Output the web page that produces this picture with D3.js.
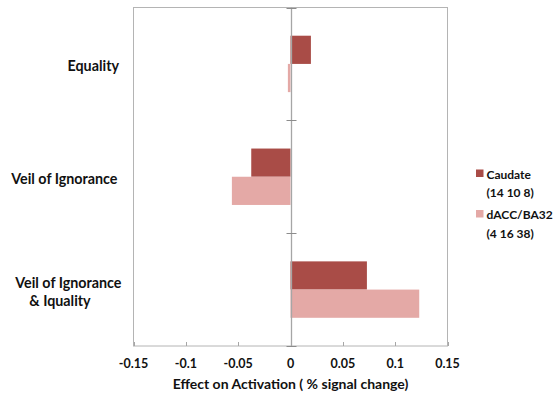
<!DOCTYPE html>
<html>
<head>
<meta charset="utf-8">
<script src="https://cdn.jsdelivr.net/npm/d3@7"></script>
<style>
  body { margin: 0; background: #fff; }
  text { font-family: Lato, "Open Sans", sans-serif; font-weight: bold; fill: #111; }
</style>
</head>
<body>
<div id="chart"></div>
<script>
const categories = ["Equality", "Veil of Ignorance", "Veil of Ignorance & Iquality"];
const caudateValues = [0.0195, -0.0375, 0.073];
const daccValues = [-0.0025, -0.056, 0.123];
const seriesLabels = [["Caudate", "(14 10 8)"], ["dACC/BA32", "(4 16 38)"]];
const seriesColors = ["#a94c47", "#e4a9a6"];
const xTicks = [-0.15, -0.1, -0.05, 0, 0.05, 0.1, 0.15];
const xTitle = "Effect on Activation ( % signal change)";

const width = 554, height = 393;
const plot = {left: 133.5, right: 447.5, top: 7.5, bottom: 346};

const svg = d3.select("#chart").append("svg")
    .attr("width", width)
    .attr("height", height);

const x = d3.scaleLinear().domain([-0.15, 0.15]).range([plot.left, plot.right]);
const y = d3.scaleBand().domain(categories)
    .range([plot.top, plot.bottom])
    .paddingInner(0.5)
    .paddingOuter(0.25);
const ySub = d3.scaleBand().domain([0, 1]).range([0, y.bandwidth()]);

const rows = categories.map((c, i) => ({
    category: c,
    values: [caudateValues[i], daccValues[i]]
}));

// frame
svg.append("rect")
    .attr("x", plot.left)
    .attr("y", plot.top)
    .attr("width", plot.right - plot.left)
    .attr("height", plot.bottom - plot.top)
    .attr("fill", "none")
    .attr("stroke", "#b4b4b4")
    .attr("stroke-width", 1);

// bars
const groups = svg.append("g").selectAll("g")
    .data(rows)
    .enter().append("g")
    .attr("transform", d => `translate(0,${y(d.category)})`);

groups.selectAll("rect")
    .data(d => d.values.map((v, k) => ({v, k})))
    .enter().append("rect")
    .attr("x", d => x(Math.min(0, d.v)))
    .attr("y", d => ySub(d.k))
    .attr("width", d => Math.abs(x(d.v) - x(0)))
    .attr("height", ySub.bandwidth())
    .attr("fill", d => seriesColors[d.k]);

// zero axis with category ticks
const zx = Math.round(x(0)) + 0.5;
svg.append("line")
    .attr("x1", zx).attr("x2", zx)
    .attr("y1", plot.top).attr("y2", plot.bottom)
    .attr("stroke", "#a6a6a6")
    .attr("stroke-width", 1.3);

const boundaries = categories.map(c => y(c) - y.step() * 0.25).concat([plot.bottom]);
svg.append("g").selectAll("line")
    .data(boundaries)
    .enter().append("line")
    .attr("x1", zx - 5).attr("x2", zx + 5)
    .attr("y1", d => Math.round(d) + 0.5).attr("y2", d => Math.round(d) + 0.5)
    .attr("stroke", "#8c8c8c");

// x axis ticks and labels
const xAxis = svg.append("g");
xAxis.selectAll("line")
    .data(xTicks)
    .enter().append("line")
    .attr("x1", d => Math.round(x(d)) + 0.5)
    .attr("x2", d => Math.round(x(d)) + 0.5)
    .attr("y1", plot.bottom)
    .attr("y2", plot.bottom - 4)
    .attr("stroke", "#a6a6a6");
xAxis.selectAll("text")
    .data(xTicks)
    .enter().append("text")
    .attr("x", d => x(d))
    .attr("y", 367.5)
    .attr("text-anchor", "middle")
    .attr("font-size", 12.5)
    .text(d => String(+d.toFixed(2)));

svg.append("text")
    .attr("x", x(0))
    .attr("y", 389)
    .attr("text-anchor", "middle")
    .attr("font-size", 14)
    .text(xTitle);

// category labels
const catLabels = [
    [{t: "Equality", x: 119, anchor: "end", dy: 2}],
    [{t: "Veil of Ignorance", x: 117.5, anchor: "end", dy: 2}],
    [{t: "Veil of Ignorance", x: 121.5, anchor: "end", dy: -7}, {t: "& Iquality", x: 60, anchor: "middle", dy: 11.5}]
];
categories.forEach((c, i) => {
    const cy = y(c) + y.bandwidth() / 2;
    catLabels[i].forEach(l => {
        svg.append("text")
            .attr("x", l.x)
            .attr("y", cy + l.dy + 5)
            .attr("text-anchor", l.anchor)
            .attr("font-size", 14.3)
            .text(l.t);
    });
});

// legend
const legend = svg.append("g").attr("transform", "translate(476,169.5)");
const items = legend.selectAll("g")
    .data(seriesLabels)
    .enter().append("g")
    .attr("transform", (d, i) => `translate(0,${i * 40.5})`);
items.append("rect")
    .attr("width", 7.5).attr("height", 7.5)
    .attr("fill", (d, i) => seriesColors[i]);
items.selectAll("text")
    .data(d => d)
    .enter().append("text")
    .attr("x", 10.5)
    .attr("y", (d, j) => 9 + j * 18.5)
    .attr("font-size", 12)
    .text(d => d);
</script>
</body>
</html>
